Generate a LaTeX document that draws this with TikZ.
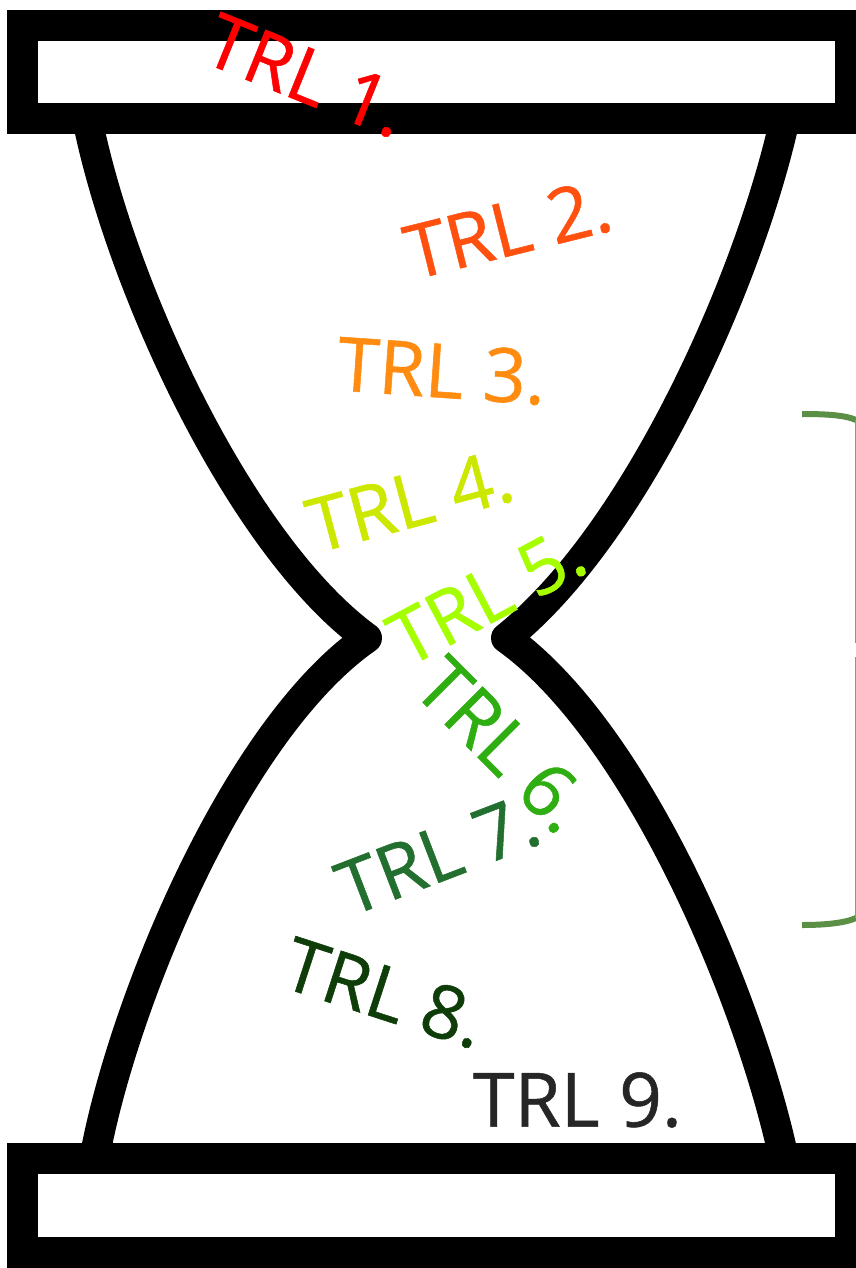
\documentclass[tikz,border=0pt]{standalone}
\usepackage{fontspec}
\setmainfont{Open Sans}
\newfontfamily\trlfont[RawFeature={embolden=0.7}]{Open Sans}
\definecolor{brk}{HTML}{5B8F45}
\tikzset{
 frame/.style={line width=31pt,draw=black,line join=miter},
 neck/.style={line width=30pt,draw=black,line cap=butt},
 trl/.style={inner sep=0pt,font=\trlfont\fontsize{#1}{#1}\selectfont},
 trl/.default=75
}
\begin{document}
\begin{tikzpicture}[x=1pt,y=-1pt]
\useasboundingbox (0,0) rectangle (856,1268);
\clip (0,0) rectangle (856,1268);
\draw[frame] (22,25.5) rectangle (850.5,119);
\draw[frame] (22,1158.5) rectangle (850.5,1252.5);
\coordinate (tl) at (88.5,125);
\coordinate (tr) at (783.5,125);
\coordinate (bl) at (96,1150);
\coordinate (br) at (782,1150);
\coordinate (cl) at (367,638);
\coordinate (cr) at (506,638);
\draw[neck,line join=round] (tl) .. controls (123,290) and (240,545) .. (cl) .. controls (235,730) and (125,1000) .. (bl);
\draw[neck,line join=round] (tr) .. controls (747,285) and (635,535) .. (cr) .. controls (635,730) and (746,990) .. (br);
\node[trl=75,rotate=-22,text=red] (t1) at (307,76) {TRL 1.};
\node[trl=75,rotate=14,text={rgb,255:red,255;green,80;blue,16}] (t2) at (508,229) {TRL 2.};
\node[trl=75,rotate=-4,text={rgb,255:red,255;green,140;blue,16}] (t3) at (442,371) {TRL 3.};
\node[trl=75,rotate=15,text={rgb,255:red,204;green,232;blue,0}] (t4) at (410,501) {TRL 4.};
\node[trl=75,rotate=28,text={rgb,255:red,166;green,255;blue,0}] (t5) at (487,596) {TRL 5.};
\node[trl=75,rotate=-45,text={rgb,255:red,46;green,174;blue,16}] (t6) at (503,745) {TRL 6.};
\node[trl=75,rotate=21,text={rgb,255:red,35;green,111;blue,47}] (t7) at (438,855) {TRL 7.};
\node[trl=74,rotate=-18,text={rgb,255:red,15;green,61;blue,10}] (t8) at (385,993) {TRL 8.};
\node[trl=75,text={rgb,255:red,38;green,38;blue,38}] (t9) at (577.5,1100) {TRL 9.};
\draw[brk,line width=6pt] (802,414) .. controls (825,414) and (845,415) .. (856,420);
\draw[brk,line width=6pt] (802,925) .. controls (825,925) and (845,923) .. (856,918);
\draw[brk!80,line width=1pt] (855.5,420) -- (855.5,643);
\draw[brk!80,line width=1pt] (855.5,657) -- (855.5,918);
\end{tikzpicture}
\end{document}
